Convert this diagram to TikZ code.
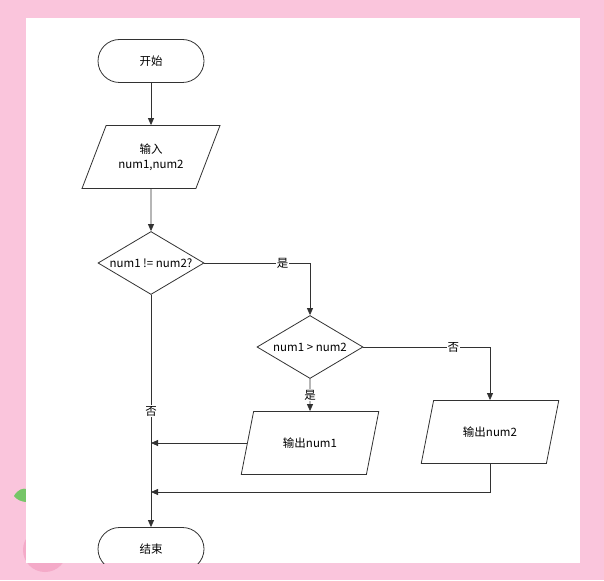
\documentclass[tikz,border=0pt]{standalone}
\usepackage{fontspec}
\setmainfont{Noto Sans CJK SC}
\usetikzlibrary{shapes.geometric,arrows.meta}

\definecolor{bgpink}{RGB}{250,197,220}
\definecolor{dotpink}{RGB}{244,170,200}
\definecolor{leafgreen}{RGB}{118,198,104}
\definecolor{linegray}{RGB}{50,50,50}

\tikzstyle{terminal} = [draw=linegray, line width=0.8pt, rectangle, rounded corners=21.5pt,
    minimum height=43pt, minimum width=106pt, inner sep=0pt]
\tikzstyle{io} = [draw=linegray, line width=0.8pt, trapezium, trapezium left angle=58,
    trapezium right angle=122, trapezium stretches=true,
    minimum height=63pt, minimum width=138pt, align=center, inner sep=1pt]
\tikzstyle{decision} = [draw=linegray, line width=0.8pt, diamond, aspect=1.7,
    minimum height=63pt, minimum width=106pt, inner sep=0pt]
\tikzstyle{yesno} = [fill=white, inner sep=1pt]
\tikzstyle{flow} = [draw=linegray, line width=0.8pt, -{Triangle[length=7pt,width=6pt]}]

\begin{document}
\begin{tikzpicture}[x=1pt, y=-1pt, font=\fontsize{11.5}{15}\selectfont]
    \fill [bgpink] (0,0) rectangle (604,580);
    \fill [leafgreen] (14,496) .. controls (18,489) and (23,488) .. (27,489)
        -- (27,502) .. controls (22,502) and (17,500) .. (14,496);
    \fill [dotpink] (45,550) circle (22pt);
    \fill [white] (26,18) rectangle (580,563);
    \useasboundingbox (0,0) rectangle (604,580);
    \begin{scope}
    \clip (26,18) rectangle (580,563);
    \node [terminal] (start) at (151,61) {开始};
    \node [io] (input) at (151,157) {输入\\num1,num2};
    \node [decision] (cmp1) at (151,263) {num1 != num2?};
    \node [decision] (cmp2) at (310,347) {num1 > num2};
    \node [io, trapezium left angle=64, trapezium right angle=116] (out1) at (310,443) {输出num1};
    \node [io, trapezium left angle=64, trapezium right angle=116] (out2) at (490,432) {输出num2};
    \node [terminal] (end) at (151,549) {结束};
    \coordinate (join1) at (cmp1 |- out1.west);
    \coordinate (join2) at (151,492);
    \draw [flow] (start) -- (input);
    \draw [flow] (input) -- (cmp1);
    \draw [flow] (cmp1.east) -| node [yesno, pos=0.37] {是} (cmp2.north);
    \draw [flow] (cmp2.east) -| node [yesno, pos=0.355] {否} (out2.north);
    \draw [flow] (cmp2.south) -- node [yesno] {是} (out1.north);
    \draw [flow] (cmp1.south) -- node [yesno] {否} (end.north);
    \draw [flow] (out1.west) -- (join1);
    \draw [flow] (out2.south) |- (join2);
    \end{scope}
\end{tikzpicture}
\end{document}
